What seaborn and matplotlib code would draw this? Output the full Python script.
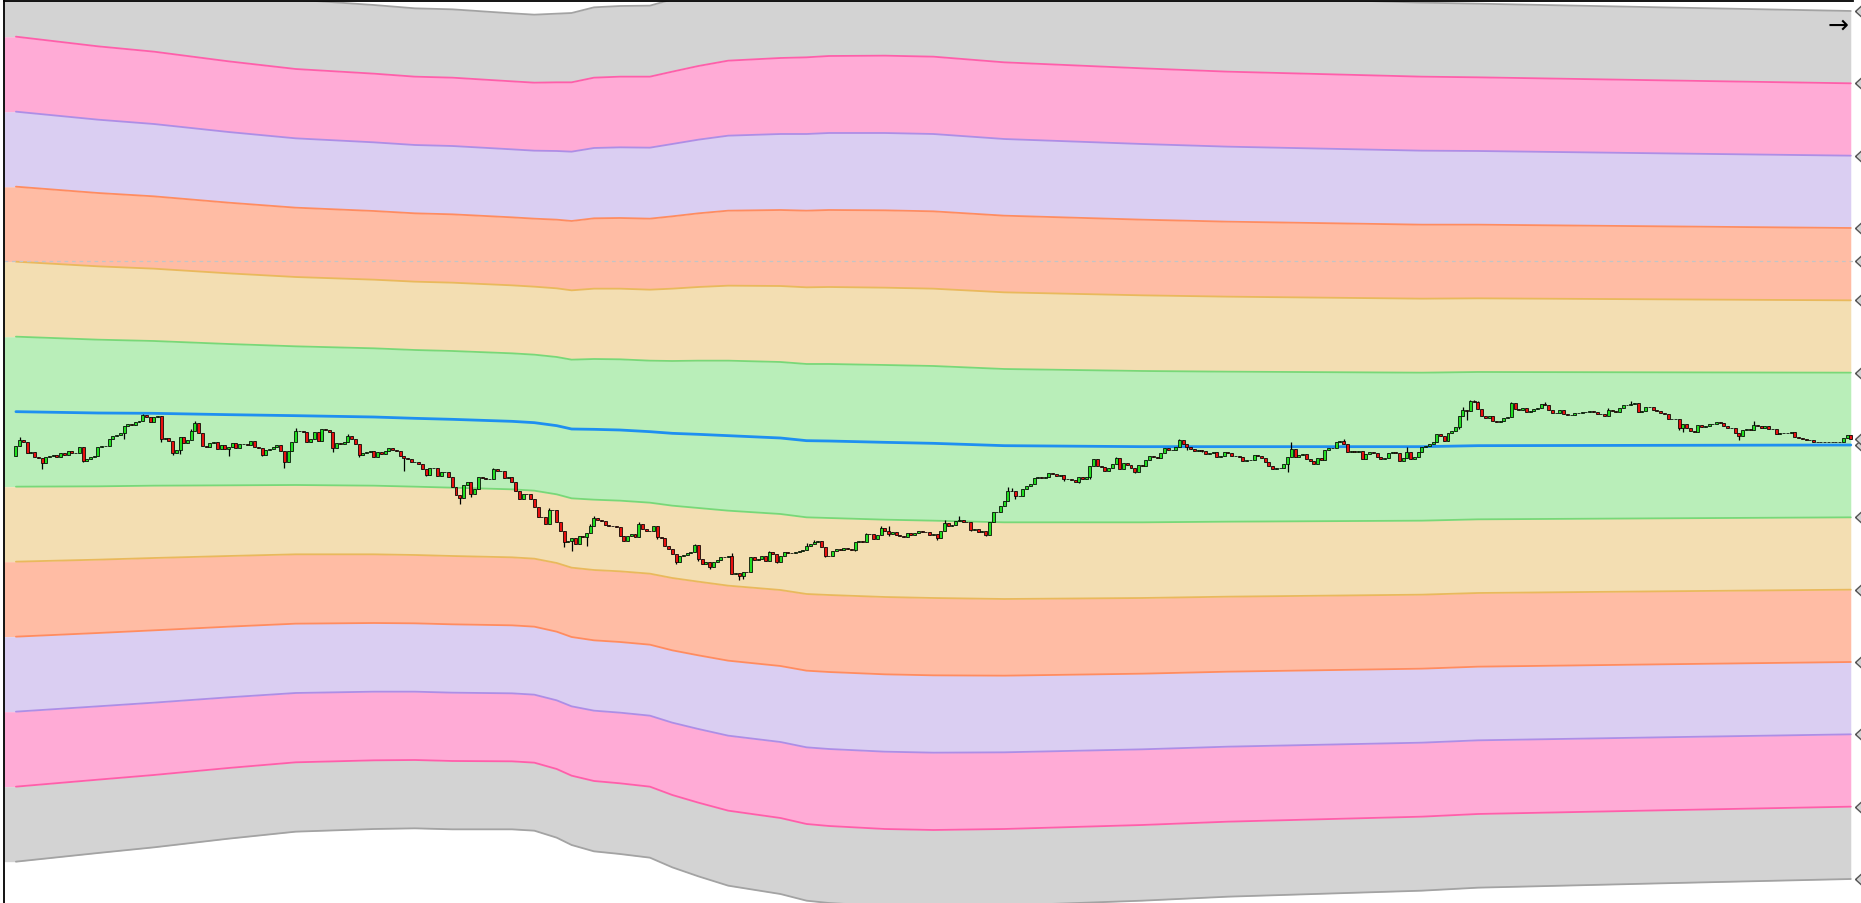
import numpy as np
import matplotlib
matplotlib.use("Agg")
import matplotlib.pyplot as plt
import seaborn as sns

# =============================================================================
# price bars (open of each bar = previous close)
# =============================================================================
first_open = 1798
closes = [
    1830, 1848, 1840, 1808, 1810, 1795, 1792, 1778, 1795, 1800,   # 0
    1802, 1797, 1807, 1802, 1815, 1808, 1809, 1825, 1785, 1791,   # 10
    1795, 1800, 1825, 1830, 1828, 1850, 1858, 1863, 1868, 1888,   # 20
    1895, 1892, 1902, 1903, 1922, 1915, 1902, 1915, 1918, 1850,   # 30
    1854, 1843, 1808, 1817, 1855, 1838, 1846, 1874, 1898, 1867,   # 40
    1830, 1827, 1838, 1842, 1820, 1832, 1820, 1825, 1838, 1822,   # 50
    1835, 1834, 1832, 1843, 1825, 1824, 1802, 1818, 1820, 1825,   # 60
    1833, 1813, 1780, 1815, 1840, 1875, 1873, 1871, 1840, 1850,   # 70
    1870, 1845, 1880, 1876, 1872, 1822, 1838, 1835, 1840, 1860,   # 80
    1850, 1835, 1802, 1808, 1812, 1815, 1795, 1810, 1805, 1813,   # 90
    1823, 1817, 1815, 1800, 1792, 1790, 1782, 1780, 1774, 1760,   # 100
    1742, 1764, 1762, 1740, 1750, 1750, 1735, 1705, 1682, 1672,   # 110
    1713, 1720, 1685, 1700, 1736, 1734, 1730, 1730, 1760, 1755,   # 120
    1755, 1732, 1735, 1720, 1695, 1670, 1684, 1686, 1670, 1645,   # 130
    1617, 1617, 1595, 1638, 1637, 1600, 1575, 1540, 1545, 1553,   # 140
    1535, 1560, 1555, 1567, 1590, 1613, 1607, 1605, 1592, 1588,   # 150
    1588, 1585, 1560, 1543, 1560, 1565, 1555, 1595, 1580, 1575,   # 160
    1575, 1588, 1555, 1553, 1530, 1520, 1505, 1480, 1500, 1503,   # 170
    1507, 1510, 1533, 1490, 1475, 1480, 1465, 1480, 1488, 1495,   # 180
    1495, 1500, 1445, 1448, 1440, 1450, 1452, 1495, 1488, 1490,   # 190
    1498, 1485, 1510, 1505, 1480, 1500, 1510, 1508, 1508, 1510,   # 200
    1515, 1518, 1530, 1535, 1540, 1545, 1525, 1500, 1500, 1514,   # 210
    1520, 1518, 1522, 1520, 1517, 1542, 1545, 1540, 1565, 1565,   # 220
    1550, 1563, 1582, 1575, 1565, 1570, 1562, 1560, 1555, 1568,   # 230
    1563, 1567, 1575, 1570, 1572, 1562, 1565, 1552, 1574, 1597,   # 240
    1590, 1593, 1603, 1608, 1602, 1600, 1578, 1580, 1572, 1573,   # 250
    1562, 1602, 1630, 1630, 1648, 1665, 1695, 1695, 1678, 1680,   # 260
    1700, 1710, 1715, 1732, 1735, 1734, 1737, 1747, 1744, 1740,   # 270
    1743, 1730, 1730, 1727, 1722, 1735, 1730, 1735, 1768, 1790,   # 280
    1768, 1765, 1755, 1762, 1774, 1792, 1760, 1777, 1772, 1763,   # 290
    1752, 1772, 1770, 1787, 1800, 1795, 1793, 1808, 1822, 1818,   # 300
    1816, 1825, 1848, 1834, 1827, 1821, 1815, 1818, 1815, 1805,   # 310
    1807, 1810, 1795, 1798, 1810, 1807, 1800, 1798, 1797, 1785,   # 320
    1788, 1786, 1803, 1800, 1792, 1782, 1770, 1760, 1763, 1762,   # 330
    1775, 1795, 1820, 1795, 1802, 1805, 1790, 1785, 1775, 1792,   # 340
    1788, 1817, 1822, 1823, 1842, 1843, 1835, 1810, 1815, 1812,   # 350
    1813, 1790, 1805, 1810, 1808, 1795, 1790, 1793, 1807, 1810,   # 360
    1808, 1785, 1792, 1810, 1790, 1795, 1810, 1825, 1830, 1834,   # 370
    1842, 1865, 1860, 1843, 1867, 1875, 1885, 1920, 1938, 1935,   # 380
    1963, 1960, 1940, 1920, 1914, 1920, 1905, 1902, 1905, 1912,   # 390
    1916, 1958, 1940, 1937, 1944, 1932, 1933, 1940, 1943, 1954,   # 400
    1952, 1938, 1927, 1928, 1937, 1925, 1922, 1923, 1928, 1929,   # 410
    1930, 1932, 1933, 1930, 1926, 1924, 1920, 1937, 1935, 1932,   # 420
    1944, 1952, 1953, 1955, 1958, 1932, 1935, 1947, 1945, 1937,   # 430
    1934, 1928, 1926, 1910, 1909, 1909, 1882, 1894, 1882, 1874,   # 440
    1872, 1892, 1885, 1888, 1895, 1896, 1901, 1898, 1890, 1882,   # 450
    1882, 1868, 1858, 1876, 1879, 1878, 1891, 1890, 1884, 1888,   # 460
    1880, 1880, 1865, 1868, 1867, 1869, 1870, 1855, 1852, 1850,   # 470
    1847, 1848, 1840, 1842, 1841, 1842, 1841, 1842, 1841, 1842,   # 480
    1852, 1863, 1850,                                             # 490
]

# wick ends that stick out past the body
wick_hi = {1: 1855, 34: 1925, 47: 1880, 48: 1905, 75: 1882, 89: 1865, 128: 1764,
           143: 1642, 154: 1595, 155: 1620, 167: 1600, 182: 1535, 192: 1508,
           202: 1513, 212: 1538, 214: 1548, 228: 1568, 232: 1590, 234: 1590,
           249: 1608, 253: 1620, 266: 1705, 267: 1704, 295: 1795, 312: 1850,
           342: 1840, 356: 1850, 373: 1825, 388: 1945, 390: 1967, 391: 1968,
           392: 1965, 401: 1962, 410: 1960, 427: 1942, 433: 1963, 466: 1903}
wick_lo = {7: 1760, 18: 1782, 29: 1850, 39: 1840, 42: 1803, 44: 1805, 57: 1800,
           66: 1800, 72: 1763, 85: 1810, 92: 1797, 104: 1755, 110: 1738, 119: 1655,
           122: 1675, 147: 1525, 149: 1515, 153: 1530, 172: 1550, 177: 1475,
           183: 1485, 186: 1460, 194: 1428, 195: 1430, 204: 1478, 217: 1495,
           225: 1515, 234: 1560, 247: 1548, 256: 1575, 260: 1558, 268: 1670,
           281: 1725, 285: 1718, 288: 1730, 300: 1748, 314: 1818, 318: 1810,
           341: 1750, 387: 1880, 389: 1908, 446: 1878, 447: 1870, 462: 1848}

# =============================================================================
# channel: centre line and band step, read at a few bars
# =============================================================================
knot_bar = [0, 22, 37, 57, 75, 96, 107, 117, 133, 139,
            145, 149, 155, 162, 170, 176, 183, 191, 205, 212,
            218, 233, 246, 265, 302, 325, 377, 392, 441, 492]
mid = [1932, 1928, 1927, 1923, 1920, 1916, 1912, 1909, 1903, 1899,
       1890, 1880, 1879, 1877, 1872, 1867, 1864, 1860, 1853, 1845,
       1844, 1840, 1837, 1830, 1827, 1827, 1827, 1830, 1831, 1832]
step = [225, 220, 217, 212, 208, 206, 205, 205, 204, 204,
        206, 208, 211, 212, 213, 217, 221, 225, 228, 230,
        231, 232, 232, 230, 227, 225, 222, 221, 219, 217]

ref_level = 2384  # faint dashed level

band_fill = ['#b9eeb9', '#f3deb2', '#ffbca4', '#dacef2', '#ffabd6', '#d3d3d3']
band_line = ['#78d878', '#e9b95c', '#ff8c60', '#ad8ee6', '#ff5eaa', '#a3a3a3']
up_col, down_col = '#22dd22', '#e81010'

# =============================================================================
# figure
# =============================================================================
sns.set_style("white")
fig = plt.figure(figsize=(18.61, 9.04), dpi=100)
ax = fig.add_axes([4 / 1861, 0, 1849 / 1861, 902 / 904])
x_left, x_right = -3.2, 492.6

kx = np.array(knot_bar, float)
km = np.array(mid, float)
ks = np.array(step, float)
fx = np.r_[x_left, kx]


def lvl(n):
    return km + n * ks


def pad(v):
    return np.r_[v[0], v]


# bands
ax.fill_between(fx, pad(lvl(-1)), pad(lvl(1)), color=band_fill[0], lw=0, zorder=1)
for n in range(2, 7):
    c = band_fill[n - 1]
    ax.fill_between(fx, pad(lvl(n - 1)), pad(lvl(n)), color=c, lw=0, zorder=1)
    ax.fill_between(fx, pad(lvl(-n)), pad(lvl(-(n - 1))), color=c, lw=0, zorder=1)

for n in range(1, 7):
    for s in (1, -1):
        sns.lineplot(x=kx, y=lvl(s * n), color=band_line[n - 1], linewidth=1.3,
                     ax=ax, zorder=2, estimator=None)
sns.lineplot(x=kx, y=km, color='#1e8ff0', linewidth=2.0, ax=ax, zorder=3, estimator=None)

ax.axhline(ref_level, color='#c4c4c4', linewidth=0.9, linestyle=(0, (3, 3)), zorder=2)

# candles
close = np.array(closes, float)
opn = np.r_[first_open, close[:-1]]
bar = np.arange(len(close))
hi = np.maximum(opn, close)
lo = np.minimum(opn, close)
for k, v in wick_hi.items():
    hi[k] = max(hi[k], v)
for k, v in wick_lo.items():
    lo[k] = min(lo[k], v)
up = close >= opn

ax.vlines(bar, lo, hi, color='black', linewidth=0.9, zorder=4)
ax.bar(bar[up], (close - opn)[up], bottom=opn[up], width=0.8, color=up_col,
       edgecolor='black', linewidth=0.55, zorder=5)
ax.bar(bar[~up], (close - opn)[~up], bottom=opn[~up], width=0.8, color=down_col,
       edgecolor='black', linewidth=0.55, zorder=5)

# price tags at the right edge (pointed label, tip at the data point)
tag_shape = [(0, 0), (1.1, -1), (4, -1), (4, 1), (1.1, 1), (0, 0)]
tags = [km[-1] + n * ks[-1] for n in range(-6, 7)] + [close[-1], ref_level]
ax.plot([1.0012] * len(tags), tags, linestyle='none', marker=tag_shape, markersize=34,
        markerfacecolor='#d3d3d3', markeredgecolor='#555555', markeredgewidth=1,
        transform=ax.get_yaxis_transform(), clip_on=False, zorder=6)

ax.set_xlim(x_left, x_right)
ax.set_ylim(458, 3164)
ax.set_xticks([])
ax.set_yticks([])
ax.set_xlabel('')
ax.set_ylabel('')
for side in ('right', 'bottom'):
    ax.spines[side].set_visible(False)
for side in ('top', 'left'):
    ax.spines[side].set_color('black')
    ax.spines[side].set_linewidth(1.3)

fig.text(0.9876, 0.972, '\u2192', fontsize=18, ha='center', va='center', color='black')

fig.savefig('out.png', dpi=100)
